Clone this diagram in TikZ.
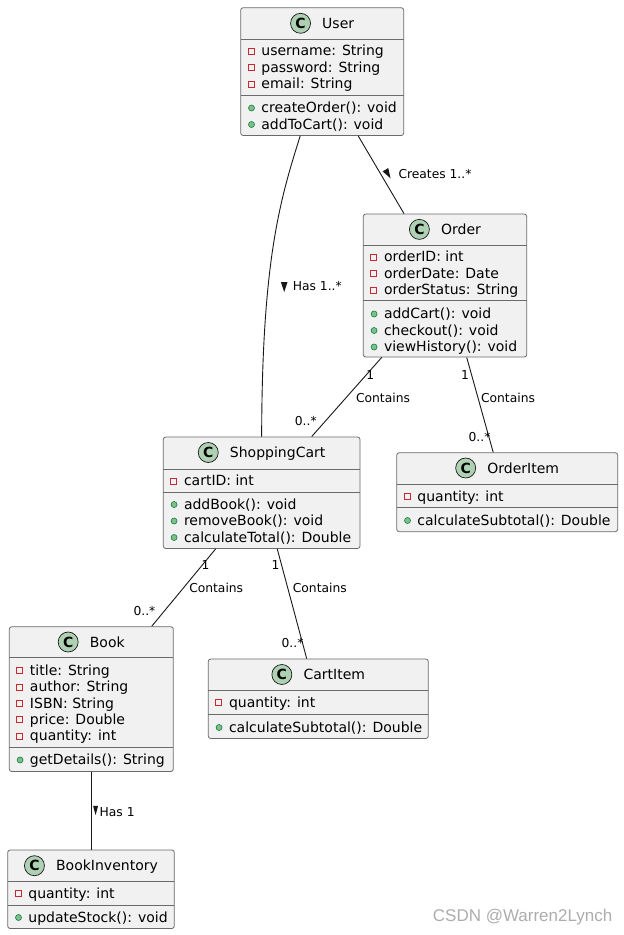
\documentclass[tikz,border=0pt]{standalone}
\usepackage{fontspec}
\setmainfont{DejaVu Sans}
\newfontfamily\wmfont{Liberation Sans}
\definecolor{boxfill}{HTML}{F1F1F1}
\definecolor{linec}{HTML}{181818}
\definecolor{boxline}{HTML}{6A6A6A}
\definecolor{iconfill}{HTML}{ADD1B2}
\definecolor{privred}{HTML}{C82930}
\definecolor{pubfill}{HTML}{84BE84}
\definecolor{pubborder}{HTML}{038048}
\tikzset{
 classbox/.style={draw=boxline, line width=0.8pt, fill=boxfill, rounded corners=2.5pt, inner sep=0pt},
 sepline/.style={draw=boxline, line width=0.8pt},
 conn/.style={draw=linec, line width=0.9pt},
 titletext/.style={font=\fontsize{14}{16}\selectfont, anchor=base, inner sep=0pt},
 membertext/.style={font=\fontsize{14}{16}\selectfont, anchor=base west, inner sep=0pt},
 lbl/.style={font=\fontsize{12.3}{14}\selectfont, anchor=base, inner sep=0pt},
 lblw/.style={font=\fontsize{12.3}{14}\selectfont, anchor=base west, inner sep=0pt},
 cicon/.style={circle, draw=linec, line width=0.7pt, fill=iconfill, minimum size=20pt, inner sep=0pt, font=\fontsize{14}{16}\selectfont\bfseries},
 privicon/.style={rectangle, draw=privred, line width=0.8pt, minimum size=6pt, inner sep=0pt},
 pubicon/.style={circle, draw=pubborder, fill=pubfill, line width=0.6pt, minimum size=6pt, inner sep=0pt},
 dirtri/.style={fill=linec},
}
% name, left, top, right, bottom, title y, sep1, sep2, title
\newcommand\umlclass[9]{%
  \node[classbox, minimum width={(#4-#2)*1pt}, minimum height={(#5-#3)*1pt}] (#1) at ({(#2+#4)/2},{(#3+#5)/2}) {};
  \draw[sepline] (#2,#7) -- (#4,#7);
  \draw[sepline] (#2,#8) -- (#4,#8);
  \node[titletext] (#1-t) at ({(#2+#4)/2+16},{#6+5}) {#9};
  \path (#1-t.base west) ++(-21.5,-5) node[cicon] (#1-c) {C};
}
% name, left, y, text
\newcommand\privm[4]{%
  \node[privicon] (#1-i) at ({#2+10.5},{#3+0.5}) {};
  \node[membertext] (#1) at ({#2+20.5},{#3+5}) {#4};
}
\newcommand\publm[4]{%
  \node[pubicon] (#1-i) at ({#2+10.8},{#3+0.5}) {};
  \node[membertext] (#1) at ({#2+20.5},{#3+5}) {#4};
}
\begin{document}
\begin{tikzpicture}[x=1pt, y=-1pt]
\useasboundingbox (0,0) rectangle (624,935);
\fill[white] (0,0) rectangle (624,935);

% User
\umlclass{user}{240.7}{7.7}{403.7}{135.5}{23.3}{39.3}{95}{User}
\privm{u1}{240.7}{50.5}{username: String}
\privm{u2}{240.7}{67}{password: String}
\privm{u3}{240.7}{83.5}{email: String}
\publm{u4}{240.7}{107.5}{createOrder(): void}
\publm{u5}{240.7}{124}{addToCart(): void}

% Order
\umlclass{order}{363.3}{214}{526.7}{357}{229.4}{245}{300.7}{Order}
\privm{o1}{363.3}{256.5}{orderID: int}
\privm{o2}{363.3}{273}{orderDate: Date}
\privm{o3}{363.3}{289.5}{orderStatus: String}
\publm{o4}{363.3}{313.5}{addCart(): void}
\publm{o5}{363.3}{330}{checkout(): void}
\publm{o6}{363.3}{346.5}{viewHistory(): void}

% ShoppingCart
\umlclass{sc}{163.3}{437}{360}{548.5}{452.5}{469}{492}{ShoppingCart}
\privm{s1}{163.3}{480.5}{cartID: int}
\publm{s2}{163.3}{504}{addBook(): void}
\publm{s3}{163.3}{520.5}{removeBook(): void}
\publm{s4}{163.3}{537}{calculateTotal(): Double}

% OrderItem
\umlclass{oi}{396.7}{452.7}{617.7}{531.7}{468}{484.3}{507.3}{OrderItem}
\privm{oi1}{396.7}{496}{quantity: int}
\publm{oi2}{396.7}{520}{calculateSubtotal(): Double}

% Book
\umlclass{book}{9.3}{626.7}{173.3}{771.5}{642}{657.7}{747.3}{Book}
\privm{b1}{9.3}{670}{title: String}
\privm{b2}{9.3}{686.5}{author: String}
\privm{b3}{9.3}{703}{ISBN: String}
\privm{b4}{9.3}{719.3}{price: Double}
\privm{b5}{9.3}{735.7}{quantity: int}
\publm{b6}{9.3}{759.5}{getDetails(): String}

% CartItem
\umlclass{ci}{208.3}{659}{428.3}{738.5}{674.5}{690}{714}{CartItem}
\privm{ci1}{208.3}{702.3}{quantity: int}
\publm{ci2}{208.3}{727}{calculateSubtotal(): Double}

% BookInventory
\umlclass{bi}{7.7}{850}{174.3}{928.5}{865.7}{881.7}{905.3}{BookInventory}
\privm{bi1}{7.7}{893.3}{quantity: int}
\publm{bi2}{7.7}{917}{updateStock(): void}

% Connectors
\draw[conn] ([xshift=-22pt]user.south) .. controls (280,200) and (262,260) .. (sc.north);
\draw[conn] ([xshift=36pt]user.south) -- ([xshift=-41pt]order.north);
\draw[conn] ([xshift=-63.3pt]order.south) -- ([xshift=50pt]sc.north);
\draw[conn] ([xshift=21.7pt]order.south) -- ([xshift=-14pt]oi.north);
\draw[conn] ([xshift=-46pt]sc.south) -- ([xshift=60.4pt]book.north);
\draw[conn] ([xshift=15.6pt]sc.south) -- ([xshift=-11.6pt]ci.north);
\draw[conn] ([xshift=0.4pt]book.south) -- ([xshift=0.4pt]book.south |- bi.north);

% Direction triangles
\coordinate (tr1) at (284.2,287);
\coordinate (tr2) at (388,174);
\coordinate (tr3) at (95.6,810.5);
\fill[dirtri, shift={(tr1)}, rotate=-90] (5,0) -- (-5,3.3) -- (-5,-3.3) -- cycle;
\fill[dirtri, shift={(tr2)}, rotate=-59] (5,0) -- (-5,3.3) -- (-5,-3.3) -- cycle;
\fill[dirtri, shift={(tr3)}, rotate=-90] (4.6,0) -- (-4.6,2.5) -- (-4.6,-2.5) -- cycle;

% Labels
\node[lblw] (l1) at (292.7,290.5) {Has 1..*};
\node[lblw] (l2) at (398.3,178.8) {Creates 1..*};
\node[lblw] (l3) at (99.5,816.2) {Has 1};

\node[lbl] (m1) at (370.2,379.5) {1};
\node[lbl] (m2) at (383,402.2) {Contains};
\node[lbl] (m3) at (305.8,425.2) {0..*};
\node[lbl] (m4) at (465,379.5) {1};
\node[lbl] (m5) at (508,402.2) {Contains};
\node[lbl] (m6) at (479.5,441.2) {0..*};
\node[lbl] (m7) at (205.5,569.5) {1};
\node[lbl] (m8) at (216.2,592.2) {Contains};
\node[lbl] (m9) at (144.5,615.2) {0..*};
\node[lbl] (m10) at (275.5,569.5) {1};
\node[lbl] (m11) at (319.8,592.2) {Contains};
\node[lbl] (m12) at (292.5,647.2) {0..*};

% Watermark
\node[font=\wmfont\fontsize{17}{19}\selectfont, text=black!32, anchor=west, inner sep=0pt] (wm) at (432.7,916.7) {CSDN @Warren2Lynch};
\end{tikzpicture}
\end{document}
